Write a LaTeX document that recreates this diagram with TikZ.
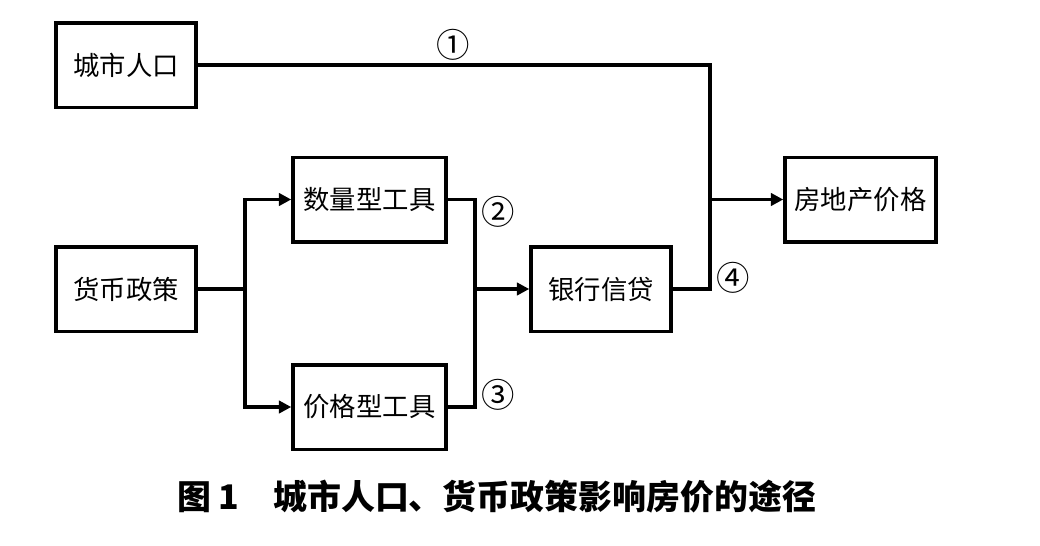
\documentclass[tikz,border=0pt]{standalone}
\usepackage{fontspec}
\setmainfont{Noto Sans CJK SC}
\usetikzlibrary{arrows.meta}
\tikzset{
	box/.style={draw, line width=2pt, inner sep=0pt, minimum height=1.69cm, font=\fontsize{15}{15}\selectfont},
	link/.style={line width=1.8pt},
	arr/.style={link, -{Triangle[length=7pt,width=7pt]}},
	num/.style={font=\fontsize{19}{19}\selectfont}
}

\begin{document}
\begin{tikzpicture}
	\useasboundingbox (0,0) rectangle (20.8,-10.9);
	\node[box, minimum width=2.8cm] (pop) at (2.52,-1.30) {城市人口};
	\node[box, minimum width=2.8cm] (money) at (2.52,-5.78) {货币政策};
	\node[box, minimum width=3.06cm] (qty) at (7.39,-3.99) {数量型工具};
	\node[box, minimum width=3.06cm] (price) at (7.39,-8.14) {价格型工具};
	\node[box, minimum width=2.8cm] (credit) at (12.02,-5.78) {银行信贷};
	\node[box, minimum width=3.02cm] (house) at (17.21,-3.99) {房地产价格};
	\coordinate (s) at (4.9,-5.78);
	\coordinate (m) at (9.5,-5.78);
	\coordinate (j) at (14.2,-3.99);
	\draw[link] (money.east) -- (s);
	\draw[arr] (s) |- (qty.west);
	\draw[arr] (s) |- (price.west);
	\draw[link] (qty.east) -| (m);
	\draw[link] (price.east) -| (m);
	\draw[arr] (m) -- (credit.west);
	\draw[link] (pop.east) -| (j) |- (credit.east);
	\draw[arr] (j) -- (house.west);
	\node[num] (n1) at (9.06,-0.9) {①};
	\node[num] (n2) at (9.96,-4.24) {②};
	\node[num] (n3) at (9.96,-7.9) {③};
	\node[num] (n4) at (14.66,-5.56) {④};
	\node[font=\fontsize{19.3}{19.3}\selectfont\bfseries] (cap) at (9.93,-9.94) {图 1\quad 城市人口、货币政策影响房价的途径};
\end{tikzpicture}
\end{document}
